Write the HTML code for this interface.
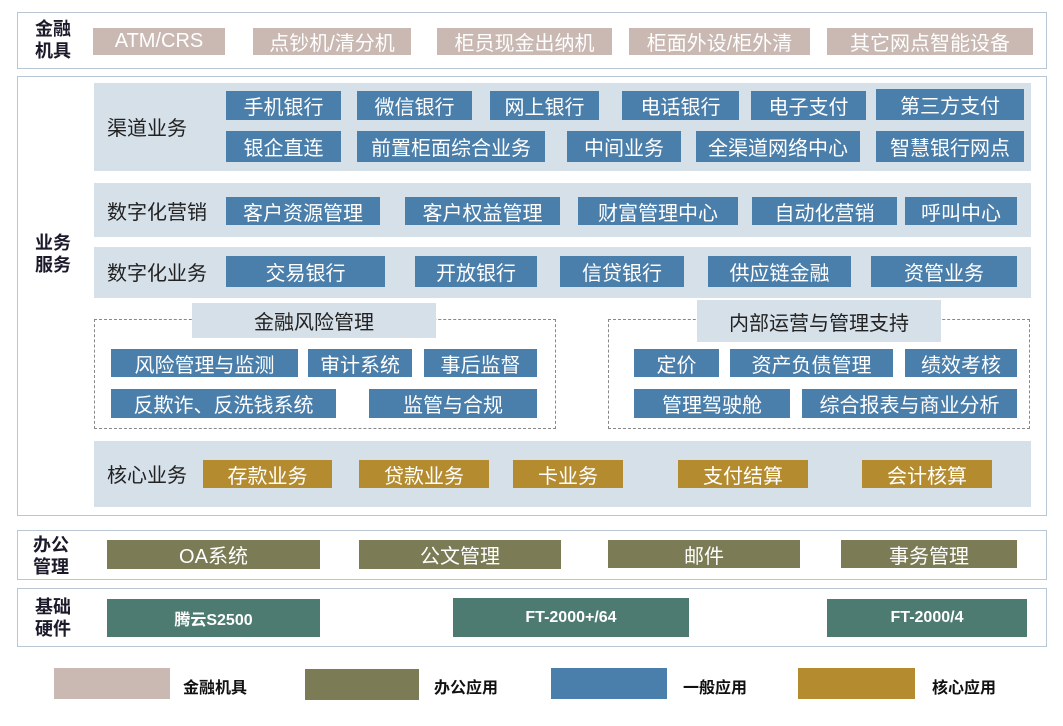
<!DOCTYPE html>
<html><head><meta charset="utf-8"><style>
body{margin:0;width:1063px;height:726px;background:#fff;position:relative;overflow:hidden;font-family:"Liberation Sans","Noto Sans CJK SC",sans-serif;}
div{position:absolute;box-sizing:border-box;}
.frame{border:1.5px solid #b9c7d4;background:#fff;}
.band{background:#d5e0e9;}
.b{display:flex;align-items:center;justify-content:center;color:#fff;font-size:20px;white-space:nowrap;}
.bl{background:#4a7eab;}
.pk{background:#c9b9b2;}
.ol{background:#7b7c55;}
.tl{background:#4e7b71;font-weight:bold;font-size:16px;}
.gd{background:#b58b2f;}
.lab{font-weight:bold;font-size:18px;line-height:22px;color:#1a1a2a;}
.bt{font-size:20px;color:#222;display:flex;align-items:center;}
.dash{border:1px dashed #888;}
.leg{font-weight:bold;font-size:16px;color:#111;}
</style></head><body>
<div class="frame" style="left:17px;top:12px;width:1030px;height:57px"></div>
<div class="frame" style="left:17px;top:76px;width:1030px;height:440px"></div>
<div class="frame" style="left:17px;top:530px;width:1030px;height:50px"></div>
<div class="frame" style="left:17px;top:588px;width:1030px;height:59px"></div>

<div class="lab" style="left:35px;top:18px">金融<br>机具</div>
<div class="lab" style="left:35px;top:232px">业务<br>服务</div>
<div class="lab" style="left:33px;top:534px">办公<br>管理</div>
<div class="lab" style="left:35px;top:596px">基础<br>硬件</div>

<div class="b pk" style="left:93px;top:28px;width:132px;height:27px">ATM/CRS</div>
<div class="b pk" style="left:253px;top:28px;width:158px;height:27px">点钞机/清分机</div>
<div class="b pk" style="left:437px;top:28px;width:175px;height:27px">柜员现金出纳机</div>
<div class="b pk" style="left:629px;top:28px;width:181px;height:27px">柜面外设/柜外清</div>
<div class="b pk" style="left:827px;top:28px;width:206px;height:27px">其它网点智能设备</div>

<div class="band" style="left:94px;top:83px;width:937px;height:88px"></div>
<div class="bt" style="left:107px;top:112px">渠道业务</div>
<div class="b bl" style="left:226px;top:91px;width:115px;height:29px">手机银行</div>
<div class="b bl" style="left:357px;top:91px;width:115px;height:29px">微信银行</div>
<div class="b bl" style="left:490px;top:91px;width:109px;height:29px">网上银行</div>
<div class="b bl" style="left:622px;top:91px;width:117px;height:29px">电话银行</div>
<div class="b bl" style="left:751px;top:91px;width:115px;height:29px">电子支付</div>
<div class="b bl" style="left:876px;top:89px;width:148px;height:31px">第三方支付</div>
<div class="b bl" style="left:226px;top:131px;width:115px;height:31px">银企直连</div>
<div class="b bl" style="left:357px;top:131px;width:188px;height:31px">前置柜面综合业务</div>
<div class="b bl" style="left:567px;top:131px;width:114px;height:31px">中间业务</div>
<div class="b bl" style="left:696px;top:131px;width:164px;height:31px">全渠道网络中心</div>
<div class="b bl" style="left:876px;top:131px;width:148px;height:31px">智慧银行网点</div>

<div class="band" style="left:94px;top:183px;width:937px;height:54px"></div>
<div class="bt" style="left:107px;top:196px">数字化营销</div>
<div class="b bl" style="left:226px;top:197px;width:154px;height:28px">客户资源管理</div>
<div class="b bl" style="left:405px;top:197px;width:155px;height:28px">客户权益管理</div>
<div class="b bl" style="left:578px;top:197px;width:160px;height:28px">财富管理中心</div>
<div class="b bl" style="left:752px;top:197px;width:145px;height:28px">自动化营销</div>
<div class="b bl" style="left:905px;top:197px;width:112px;height:28px">呼叫中心</div>

<div class="band" style="left:94px;top:247px;width:937px;height:51px"></div>
<div class="bt" style="left:107px;top:257px">数字化业务</div>
<div class="b bl" style="left:226px;top:256px;width:159px;height:31px">交易银行</div>
<div class="b bl" style="left:415px;top:256px;width:122px;height:31px">开放银行</div>
<div class="b bl" style="left:560px;top:256px;width:124px;height:31px">信贷银行</div>
<div class="b bl" style="left:708px;top:256px;width:143px;height:31px">供应链金融</div>
<div class="b bl" style="left:871px;top:256px;width:146px;height:31px">资管业务</div>

<div class="dash" style="left:94px;top:319px;width:462px;height:110px"></div>
<div class="band b" style="left:192px;top:303px;width:244px;height:35px;color:#222">金融风险管理</div>
<div class="b bl" style="left:111px;top:349px;width:187px;height:28px">风险管理与监测</div>
<div class="b bl" style="left:308px;top:349px;width:104px;height:28px">审计系统</div>
<div class="b bl" style="left:424px;top:349px;width:113px;height:28px">事后监督</div>
<div class="b bl" style="left:111px;top:389px;width:225px;height:29px">反欺诈、反洗钱系统</div>
<div class="b bl" style="left:369px;top:389px;width:168px;height:29px">监管与合规</div>

<div class="dash" style="left:608px;top:319px;width:422px;height:110px"></div>
<div class="band b" style="left:697px;top:300px;width:244px;height:42px;color:#222">内部运营与管理支持</div>
<div class="b bl" style="left:634px;top:349px;width:85px;height:28px">定价</div>
<div class="b bl" style="left:730px;top:349px;width:163px;height:28px">资产负债管理</div>
<div class="b bl" style="left:905px;top:349px;width:112px;height:28px">绩效考核</div>
<div class="b bl" style="left:634px;top:389px;width:156px;height:29px">管理驾驶舱</div>
<div class="b bl" style="left:802px;top:389px;width:215px;height:29px">综合报表与商业分析</div>

<div class="band" style="left:94px;top:441px;width:937px;height:66px"></div>
<div class="bt" style="left:107px;top:459px">核心业务</div>
<div class="b gd" style="left:203px;top:460px;width:129px;height:28px">存款业务</div>
<div class="b gd" style="left:359px;top:460px;width:130px;height:28px">贷款业务</div>
<div class="b gd" style="left:513px;top:460px;width:110px;height:28px">卡业务</div>
<div class="b gd" style="left:678px;top:460px;width:130px;height:28px">支付结算</div>
<div class="b gd" style="left:862px;top:460px;width:130px;height:28px">会计核算</div>

<div class="b ol" style="left:107px;top:540px;width:213px;height:29px">OA系统</div>
<div class="b ol" style="left:359px;top:540px;width:202px;height:29px">公文管理</div>
<div class="b ol" style="left:608px;top:540px;width:192px;height:28px">邮件</div>
<div class="b ol" style="left:841px;top:540px;width:176px;height:28px">事务管理</div>

<div class="b tl" style="left:107px;top:599px;width:213px;height:38px">腾云S2500</div>
<div class="b tl" style="left:453px;top:598px;width:236px;height:39px">FT-2000+/64</div>
<div class="b tl" style="left:827px;top:599px;width:200px;height:38px">FT-2000/4</div>

<div class="pk" style="left:54px;top:668px;width:116px;height:31px"></div>
<div class="leg" style="left:183px;top:674px">金融机具</div>
<div class="ol" style="left:305px;top:669px;width:114px;height:31px"></div>
<div class="leg" style="left:434px;top:674px">办公应用</div>
<div class="bl" style="left:551px;top:668px;width:116px;height:31px"></div>
<div class="leg" style="left:683px;top:674px">一般应用</div>
<div class="gd" style="left:798px;top:668px;width:117px;height:31px"></div>
<div class="leg" style="left:932px;top:674px">核心应用</div>
</body></html>
